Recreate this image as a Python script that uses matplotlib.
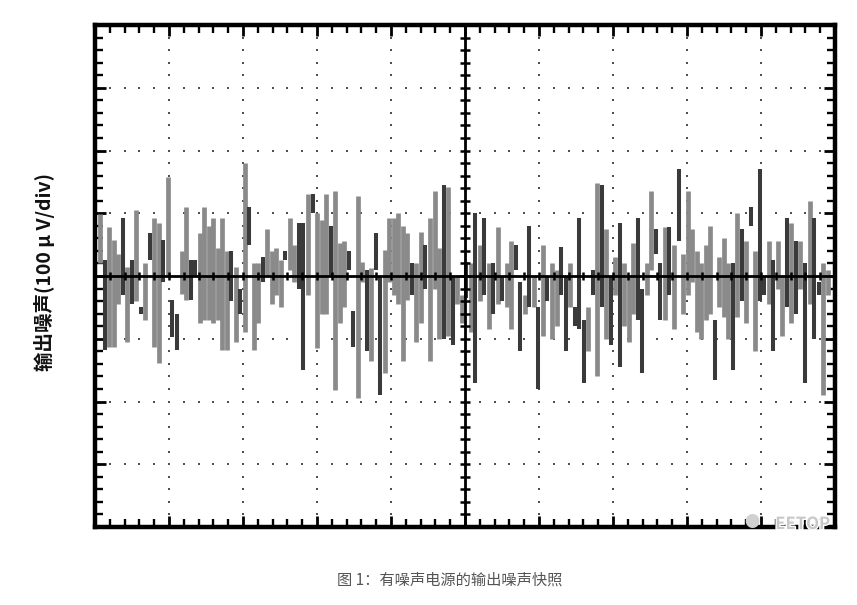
import numpy as np
import matplotlib
matplotlib.use("Agg")
import matplotlib.pyplot as plt
import matplotlib.patheffects as pe

plt.rcParams['font.family'] = ['Noto Sans CJK SC', 'DejaVu Sans']

# ---- data (values in divisions, 1 div = 100 uV) ----
# each captured noise excursion: top value, bottom value, channel (G = light trace, D = dark trace)
spike_top = [
    0.99, 0.25, 0.78, 0.57, 0.35, 0.92, 0.15, 0.25, 1.05, -0.5, 0.2, 0.68, 0.92, 0.85, 0.57, 1.58, -0.38, -0.6, 0.4, 1.1, 0.25, 0.25, 0.68, 1.1, 0.8,
    0.92, 0.45, 0.92, 0.4, 0.4, 0.15, -0.2, 1.8, 1.1, 0.2, 0.2, 0.3, 0.75, 0.4, 0.45, 0.25, 0.4, 0.92, 0.5, 0.85, 0.85, 1.3, 1.3, 1.0, 0.9, 1.3, 0.8, 1.35,
    0.52, 0.55, 0.4, -0.55, 1.28, 0.22, 0.1, 0.13, 0.68, 0.0, 0.41, 0.92, 0.92, 1.0, 0.8, 0.68, 0.2, 0.2, 0.7, 0.5, 0.92, 1.35, 0.45, 1.45,
    1.42, 0.0, 0.0, -0.3, 0.22, 0.2, 1.0, 0.5, 0.92, 0.2, 0.2, 0.78, 0.0, 0.2, 0.55, 0.5, -0.1, -0.3, 0.8, 0.0, -0.5, 0.5, 0.0, 0.2, 0.1, 0.46, 0.0, 0.2,
    -0.5, 0.92, -0.7, -0.5, 0.1, 1.48, 1.45, 0.75, 0.0, 0.3, 0.85, 0.2, 0.0, 0.52, 0.92, -0.2, 0.2, 1.35, 0.75, 0.2, 0.78, 0.78, 0.5, 1.7, 0.35, 1.35, 0.75, 0.4,
    0.2, 0.5, 0.8, -0.7, 0.3, 0.6, 0.2, 0.2, 1.0, 0.75, 0.55, 1.1, 0.4, 1.7, 0.0, 0.55, 0.25, 0.55, 0.0, 0.92, 0.85, 0.55, 0.55, 0.2, 1.2, 0.92, -0.1, 0.2, 0.1,
]
spike_bottom = [
    0.2, -1.18, -1.13, -1.13, -0.45, -0.3, -1.05, -0.44, -0.4, -0.6, -0.7, 0.25, -1.13, -1.39, -0.1, 0.0, -0.97, -1.18, -0.28, -0.38, -0.38, 0.0, -0.75, -0.7, -0.7,
    -0.75, -0.7, -1.18, -1.18, -0.4, -1.05, -0.6, -0.9, 0.5, -1.18, -0.75, -0.1, 0.0, -0.44, -0.3, -0.5, 0.25, 0.1, -0.1, -0.2, -1.5, -0.3, 1.0, -1.15, -0.6, -0.6, 0.0, -1.81,
    -0.75, -0.5, 0.1, -1.13, -1.95, -0.1, -1.2, -1.35, 0.1, -1.9, -1.55, -0.1, -0.3, -0.45, -1.35, -0.38, -0.3, -1.05, -0.75, -0.2, -1.35, -0.2, -1.0, -1.0,
    -0.95, -1.1, -0.45, -0.75, -0.35, -0.9, -1.7, -0.4, -0.3, -0.85, -0.6, -0.45, -0.4, -0.5, -0.85, 0.1, -1.2, -0.6, -0.5, -0.5, -1.8, -0.95, -0.4, -1.0, -0.8, -0.3, -1.2, -0.5,
    -0.8, -0.85, -1.7, -1.2, -0.3, -1.6, -0.5, -1.0, -1.1, -0.3, -1.45, -0.8, -1.05, -0.6, -0.7, -1.55, -0.3, 0.1, 0.35, -0.7, -0.7, -0.3, -0.85, 0.55, -0.6, -0.3, -0.1, -0.9,
    -1.0, -0.7, -0.6, -1.65, -0.5, -0.65, -1.0, -1.5, -0.65, -0.4, -0.75, 0.8, -1.2, -0.4, -0.3, -0.45, -1.2, -0.2, -0.95, -0.5, -0.75, -0.6, -0.2, -1.7, -0.45, -1.0, -0.3, -1.9, -0.3,
]
spike_channel = list(
    "GDGGGDGDGDGDGGDGDDGGDDGGG"
    "GGGGDGDGDGGDGGGGDGGDDGDGGGDG"
    "GGDDGGDGDDGGGGGGDGGDGGGD"
    "GDGGDGDGDGDGDGGDDGDGDGDGGDDG"
    "DDDGDGDGDGDGGGDDGGDDGDGDGGGG"
    "GGGDGGGDGDGDGDDGDGGDGDGDGDDGG"
)

y_label = "输出噪声(100 μ V/div)"
caption = "图 1：有噪声电源的输出噪声快照"
n_xdiv, n_ydiv, n_sub = 10, 8, 5

# ---- figure ----
fig = plt.figure(figsize=(8.57, 6.05), dpi=100)
fig.patch.set_facecolor('white')
ax = fig.add_axes([95/857, 1-527/605, 740/857, 502/605])
ax.set_xlim(0, n_xdiv)
ax.set_ylim(-n_ydiv/2, n_ydiv/2)

# dotted graticule
xs_minor = np.arange(0, n_xdiv + 1e-9, 1/n_sub)
ys_minor = np.arange(-n_ydiv/2, n_ydiv/2 + 1e-9, 1/n_sub)
for gx in range(1, n_xdiv):
    if gx == n_xdiv // 2:
        continue
    ax.plot(np.full_like(ys_minor, gx), ys_minor, ls='none', marker='s',
            ms=2.0, color='#505050', mew=0, zorder=1)
for gy in range(-n_ydiv//2 + 1, n_ydiv//2):
    if gy == 0:
        continue
    ax.plot(xs_minor, np.full_like(xs_minor, gy), ls='none', marker='s',
            ms=2.0, color='#505050', mew=0, zorder=1)

# noise spikes
n = len(spike_top)
t = np.linspace(0.07, 9.9, n)
top = np.array(spike_top)
bot = np.array(spike_bottom)
ch = np.array(spike_channel)
g = ch == 'G'
d = ch == 'D'
ax.vlines(t[g], bot[g], top[g], colors='#8a8a8a', lw=3.4, zorder=3)
ax.vlines(t[d], bot[d], top[d], colors='#3a3a3a', lw=2.9, zorder=4)

# center axes with sub-division ticks
ax.axhline(0, color='black', lw=2.0, zorder=5)
ax.axvline(n_xdiv/2, color='black', lw=2.0, zorder=5)
ax.plot(xs_minor, np.zeros_like(xs_minor), ls='none', marker='|', ms=6,
        mew=1.8, color='black', zorder=5)
ax.plot(np.full_like(ys_minor, n_xdiv/2), ys_minor, ls='none', marker='_',
        ms=7, mew=1.8, color='black', zorder=5)

# frame ticks
ax.set_xticks(np.arange(0, n_xdiv + 1, 1))
ax.set_xticks(xs_minor, minor=True)
ax.set_yticks(np.arange(-n_ydiv//2, n_ydiv//2 + 1, 1))
ax.set_yticks(ys_minor, minor=True)
ax.tick_params(which='both', direction='in', top=True, right=True,
               labelbottom=False, labelleft=False, color='black')
ax.tick_params(which='major', length=8, width=2.0)
ax.tick_params(which='minor', length=5.5, width=1.7)
for s in ax.spines.values():
    s.set_linewidth(3.2)
    s.set_color('black')
    s.set_zorder(6)

# labels
fig.text(45/857, 1-272/605, y_label, rotation=90, ha='center', va='center',
         fontsize=14, fontweight='bold', color='#111111')
fig.text(450/857, 1-580/605, caption, ha='center', va='center',
         fontsize=11, color='#555555')

# watermark
fig.text(830/857, 1-524/605, "EETOP", ha='right', va='center', fontsize=12,
         color='#c8c8c8', fontweight='bold',
         path_effects=[pe.withStroke(linewidth=2, foreground='white')], zorder=10)
fig.text(752/857, 1-522/605, "●", ha='center', va='center', fontsize=11,
         color='#d0d0d0', zorder=10)

fig.savefig('out.png', dpi=100, facecolor='white')
